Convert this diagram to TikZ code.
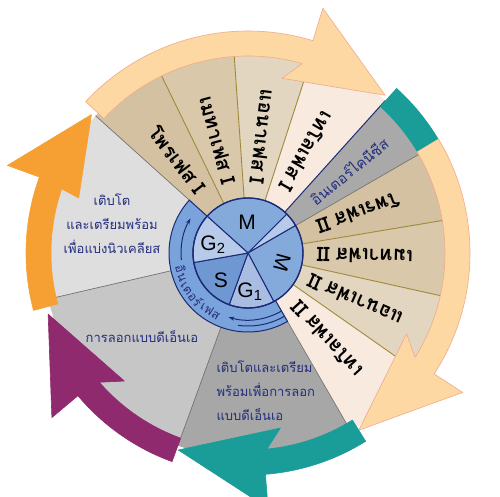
\documentclass[tikz,border=0pt]{standalone}
\usepackage{fontspec}
\setmainfont{Liberation Sans}
\newfontfamily\thaifont[Script=Thai]{Loma}
\usetikzlibrary{arrows.meta}

\definecolor{navyline}{HTML}{1C2B78}
\definecolor{navytext}{HTML}{222E7E}
\definecolor{peach}{HTML}{FDD8A2}
\definecolor{peachline}{HTML}{EFAA8C}
\definecolor{tealarrow}{HTML}{1A9D98}
\definecolor{plumarrow}{HTML}{902A6E}
\definecolor{orangearrow}{HTML}{F6A034}
\definecolor{wedgeGtwo}{HTML}{DEDEDE}
\definecolor{wedgeS}{HTML}{C6C6C6}
\definecolor{wedgeGone}{HTML}{A7A7A7}
\definecolor{wedgeKin}{HTML}{A9A9A9}
\definecolor{tanA}{HTML}{D3C1A2}
\definecolor{tanB}{HTML}{DAC8AB}
\definecolor{tanC}{HTML}{E3D6C0}
\definecolor{tanD}{HTML}{F8EADE}
\definecolor{oliveline}{HTML}{9E8A3A}
\definecolor{ringblue}{HTML}{7BA3DB}
\definecolor{pieM}{HTML}{84AADC}
\definecolor{pieLight}{HTML}{B7CAEA}
\definecolor{pieS}{HTML}{6F97D1}
\definecolor{pieGone}{HTML}{A9BDE2}

\begin{document}
\begin{tikzpicture}[x=1pt, y=1pt,
    wedgesep/.style={draw=oliveline, line width=0.9pt},
    graysep/.style={draw=black!55, line width=0.7pt},
    ringline/.style={draw=navyline, line width=1pt},
    cyclelbl/.style={font=\thaifont\fontsize{13}{24}\selectfont, text=navytext, align=center},
    phaselbl/.style={font=\thaifont\bfseries\fontsize{20}{22}\selectfont, text=black, inner sep=0pt},
    pielbl/.style={font=\fontsize{21}{23}\selectfont, text=black},
    ringlbl/.style={font=\thaifont\fontsize{12.5}{13}\selectfont, text=navytext, inner sep=0pt},
  ]
  \useasboundingbox (-248,-244) rectangle (252,253);

  %Wedges
  \fill[wedgeGtwo] (0,0) -- (138:205) arc[start angle=138, end angle=193, radius=205] -- cycle;
  \fill[wedgeS] (0,0) -- (193:205) arc[start angle=193, end angle=250, radius=205] -- cycle;
  \fill[wedgeGone] (0,0) -- (250:205) arc[start angle=250, end angle=300, radius=205] -- cycle;
  \fill[wedgeKin] (0,0) -- (30:205) arc[start angle=30, end angle=48, radius=205] -- cycle;
  \foreach \a/\b/\c/\t in {116/138/tanA/โพรเฟส I, 94/116/tanB/เมทาเฟส I, 72/94/tanC/แอนาเฟส I, 48/72/tanD/เทโลเฟส I,
      9.5/30/tanA/โพรเฟส II, -12.5/9.5/tanB/เมทาเฟส II, -35/-12.5/tanC/แอนาเฟส II, -60/-35/tanD/เทโลเฟส II}{
    \pgfmathsetmacro{\m}{(\a+\b)/2}
    \fill[\c] (0,0) -- (\a:205) arc[start angle=\a, end angle=\b, radius=205] -- cycle;
    \node[phaselbl, rotate=\m-180] at (\m:117) {\t};
  }

  %Separators
  \foreach \a in {116, 94, 72, 9.5, -12.5, -35}
    \draw[wedgesep] (\a:55) -- (\a:205);
  \foreach \a in {138, 193, 250, -60, 30}
    \draw[graysep] (\a:55) -- (\a:205);
  \draw[ringline] (48:55) -- (48:205);

  %Outer arrows
  \foreach \s/\h/\t/\o/\c/\l in {137/73/49/6/peach/peachline, 31/-33/-58/6/peach/peachline,
      250/220/197/6/plumarrow/plumarrow, -58/-85.5/-109.5/6/tealarrow/tealarrow,
      195/160/138.5/2/orangearrow/orangearrow}
    \filldraw[fill=\c, draw=\l, line width=0.6pt, line join=round]
      (\s:222) arc[start angle=\s, end angle=\h, radius=222] -- (\h:256) -- (\t:209)
      -- ({\h+\o}:178) -- ({\h+1}:197) arc[start angle=\h+1, end angle=\s, radius=197] -- cycle;
  \fill[tealarrow] (48:197) -- (48:222) arc[start angle=48, end angle=31, radius=222]
    -- (31:197) arc[start angle=31, end angle=48, radius=197] -- cycle;

  %Interphase ring
  \filldraw[fill=ringblue, ringline] (138:55) -- (138:79) arc[start angle=138, end angle=300, radius=79]
    -- (300:55) arc[start angle=300, end angle=138, radius=55] -- cycle;
  \draw[ringline, -{Stealth[length=6pt,width=4pt]}] (186:67) arc[start angle=186, end angle=149, radius=67];
  \draw[ringline, -{Stealth[length=6pt,width=4pt]}] (300:67) arc[start angle=300, end angle=253, radius=67];
  \draw[ringline] (300:73) arc[start angle=300, end angle=262, radius=73];
  \foreach \a/\t in {197/อิน, 216/เตอร์, 237/เฟส}
    \node[ringlbl, rotate=\a+90] at (\a:69) {\t};

  %Pie
  \foreach \a/\b/\c in {45/138/pieM, 30/45/pieLight, -62/30/pieM, 250/298/pieGone, 190/250/pieS, 138/190/pieLight}
    \filldraw[fill=\c, ringline] (0,0) -- (\a:55) arc[start angle=\a, end angle=\b, radius=55] -- cycle;
  \draw[ringline, line width=1.3pt] (0,0) circle[radius=55];

  \node[pielbl] (mitosis) at (-1,31) {M};
  \node[pielbl] (gtwo) at (-35,8) {G\textsubscript{2}};
  \node[pielbl] (synth) at (-27,-27) {S};
  \node[pielbl] (gone) at (2,-39) {G\textsubscript{1}};
  \node[pielbl, rotate=-105] (meiosis) at (34,-10) {M};

  %Phase labels
  \node[cyclelbl] (growdiv) at (-136,29) {เติบโต\\และเตรียมพร้อม\\เพื่อแบ่งนิวเคลียส};
  \node[cyclelbl] (replic) at (-106,-84) {การลอกแบบดีเอ็นเอ};
  \node[cyclelbl, anchor=west, align=left] (growrep) at (-35,-138) {เติบโตและเตรียม\\พร้อมเพื่อการลอก\\แบบดีเอ็นเอ};
  \node[cyclelbl, font=\thaifont\fontsize{14.5}{16}\selectfont, rotate=39] (kinesis) at (39:130) {อินเตอร์ไคนีซีส};
\end{tikzpicture}
\end{document}
